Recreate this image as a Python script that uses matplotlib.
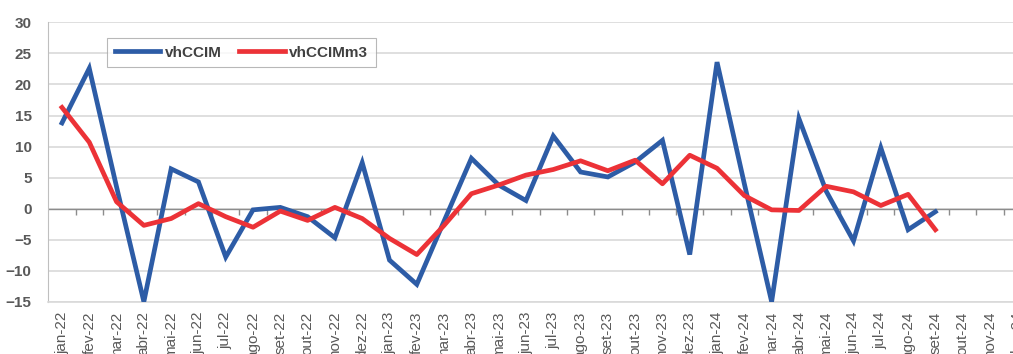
import numpy as np
import matplotlib
matplotlib.use("Agg")
import matplotlib.pyplot as plt

plt.rcParams['font.family'] = ['Liberation Sans', 'DejaVu Sans']

months = ['jan', 'fev', 'mar', 'abr', 'mai', 'jun',
          'jul', 'ago', 'set', 'out', 'nov', 'dez']
years = ['22', '23', '24']
categories = [f'{m}-{y}' for y in years for m in months]

# vhCCIM (monthly), jan-22 .. set-24
vhccim = [13.8, 22.6, 3.5, -15.0, 6.4, 4.3, -7.8, -0.2, 0.2, -1.3, -4.7, 7.4,
          -8.3, -12.2, -2.0, 8.1, 3.8, 1.3, 11.7, 5.9, 5.1, 7.5, 11.0, -7.4,
          23.6, 4.0, -15.0, 14.5, 2.8, -5.2, 9.8, -3.4, -0.5]
# vhCCIMm3
vhccim_m3 = [16.3, 10.7, 1.1, -2.7, -1.6, 0.8, -1.3, -3.0, -0.4, -1.9, 0.2, -1.6,
             -4.8, -7.4, -2.7, 2.4, 3.8, 5.4, 6.3, 7.7, 6.1, 7.8, 4.0, 8.6,
             6.5, 2.1, -0.2, -0.3, 3.6, 2.7, 0.5, 2.3, -3.4]

BLUE = '#2d5ca6'
RED = '#ec3237'
GRAY_TXT = '#595959'

fig = plt.figure(figsize=(10.13, 3.54), dpi=100)
ax = fig.add_axes([0.0477, 0.1477, 0.970, 0.789])

x = np.arange(len(categories))
ax.plot(x[:len(vhccim)], vhccim, color=BLUE, lw=3.4, label='vhCCIM',
        solid_joinstyle='miter', zorder=3)
ax.plot(x[:len(vhccim_m3)], vhccim_m3, color=RED, lw=3.4, label='vhCCIMm3',
        solid_joinstyle='round', zorder=4)

ymin, ymax = -15, 30
ax.set_ylim(ymin, ymax)
ax.set_xlim(-0.5, len(categories) - 0.5)
ax.set_yticks(np.arange(ymin, ymax + 1, 5))
ax.yaxis.grid(True, color='#d9d9d9', lw=1.2)
ax.set_axisbelow(True)
ax.axhline(0, color='#8c8c8c', lw=1.0, zorder=2)

for s in ['top', 'right']:
    ax.spines[s].set_visible(False)
ax.spines['left'].set_color('#bfbfbf')
ax.spines['bottom'].set_color('#d9d9d9')
ax.spines['bottom'].set_linewidth(1.2)

ax.tick_params(axis='y', length=0, pad=12, labelsize=11, labelcolor=GRAY_TXT)
for lbl in ax.get_yticklabels():
    lbl.set_fontweight('bold')

ax.set_xticks(x)
ax.set_xticklabels(categories, rotation=90, va='top', ha='center')
ax.tick_params(axis='x', length=0, pad=7, labelsize=11, labelcolor=GRAY_TXT)

# category tick marks sitting on the zero line
sec = ax.secondary_xaxis((0 - ymin) / (ymax - ymin))
sec.set_xticks(x[:-1] + 0.5)
sec.set_xticklabels([])
sec.tick_params(axis='x', direction='out', length=4, color='#8c8c8c', width=1)
sec.spines['bottom'].set_visible(False)

leg = ax.legend(loc='upper left', bbox_to_anchor=(0.0597, 0.944), ncol=2,
                frameon=True, fancybox=False, borderaxespad=0,
                handlelength=3.0, columnspacing=1.1, borderpad=0.5,
                handletextpad=0.3, prop={'weight': 'bold', 'size': 11})
leg.get_frame().set_edgecolor('#a6a6a6')
leg.get_frame().set_linewidth(0.8)
for t in leg.get_texts():
    t.set_color('#404040')

fig.savefig('out.png', dpi=100)
